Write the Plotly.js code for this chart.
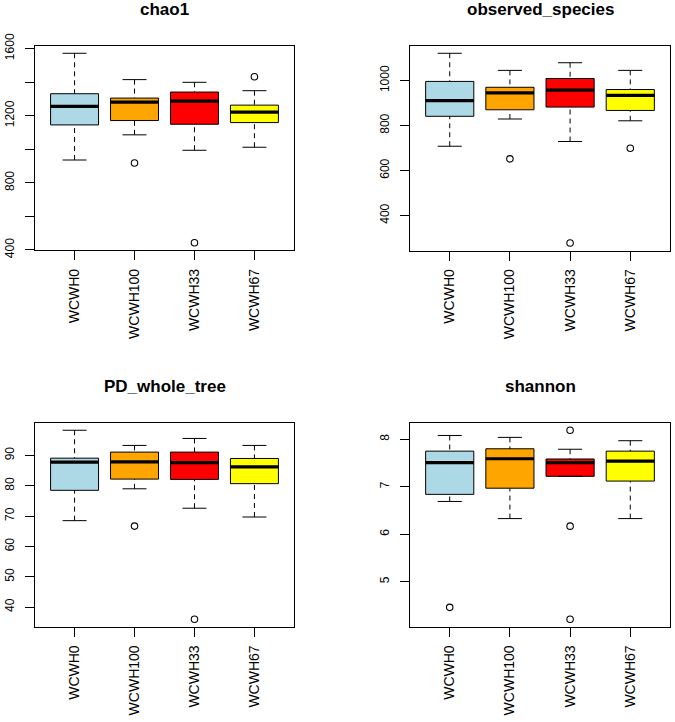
<!DOCTYPE html>
<html><head><meta charset="utf-8">
<script src="https://cdn.plot.ly/plotly-3.0.1.min.js"></script>
<style>html,body{margin:0;padding:0;background:#fff}#chart{width:675px;height:722px}</style>
</head><body><div id="chart"></div>
<script>
// ---------- data ----------
const groups = ['WCWH0', 'WCWH100', 'WCWH33', 'WCWH67'];

const chao1Lower  = [936, 1086, 994, 1012];
const chao1Q1     = [1145, 1171, 1149, 1159];
const chao1Median = [1255, 1281, 1287, 1221];
const chao1Q3     = [1331, 1305, 1341, 1263];
const chao1Upper  = [1572, 1415, 1399, 1349];
const chao1OutGroup = ['WCWH100', 'WCWH33', 'WCWH67'];
const chao1OutValue = [918, 443, 1432];
const chao1TickVals = [400, 600, 800, 1000, 1200, 1400, 1600];
const chao1TickText = ['400', '', '800', '', '1200', '', '1600'];

const obsLower  = [708, 829, 729, 821];
const obsQ1     = [841, 870, 882, 867];
const obsMedian = [911, 945, 957, 934];
const obsQ3     = [996, 970, 1009, 960];
const obsUpper  = [1121, 1045, 1079, 1045];
const obsOutGroup = ['WCWH100', 'WCWH33', 'WCWH67'];
const obsOutValue = [652, 278, 699];
const obsTickVals = [400, 600, 800, 1000];
const obsTickText = ['400', '600', '800', '1000'];

const pdLower  = [68.5, 79.0, 72.6, 69.7];
const pdQ1     = [78.5, 82.2, 82.1, 80.7];
const pdMedian = [87.8, 87.9, 87.6, 86.2];
const pdQ3     = [89.1, 91.1, 91.1, 89.0];
const pdUpper  = [98.3, 93.3, 95.6, 93.3];
const pdOutGroup = ['WCWH100', 'WCWH33'];
const pdOutValue = [66.7, 36.0];
const pdTickVals = [40, 50, 60, 70, 80, 90];
const pdTickText = ['40', '50', '60', '70', '80', '90'];

const shLower  = [6.69, 6.33, 7.22, 6.33];
const shQ1     = [6.84, 6.97, 7.22, 7.12];
const shMedian = [7.51, 7.59, 7.51, 7.54];
const shQ3     = [7.75, 7.80, 7.585, 7.75];
const shUpper  = [8.08, 8.04, 7.79, 7.97];
const shOutGroup = ['WCWH0', 'WCWH33', 'WCWH33', 'WCWH33'];
const shOutValue = [4.46, 8.19, 6.17, 4.21];
const shTickVals = [5, 6, 7, 8];
const shTickText = ['5', '6', '7', '8'];

// ---------- styles ----------
const boxColors = ['#ADD8E6', '#FFA500', '#FF0000', '#FFFF00'];
const W = 675, H = 722;
// plot frames in pixels [left, right, top, bottom]
const frames = [[35, 294, 45.7, 250.3], [410, 670, 45.7, 250.6], [35, 294, 422.7, 626.8], [410, 670, 422.7, 626.8]];
const titleY = [10, 10, 386, 386];

const panels = [
  {title: 'chao1', lo: chao1Lower, q1: chao1Q1, med: chao1Median, q3: chao1Q3, hi: chao1Upper, og: chao1OutGroup, ov: chao1OutValue, tv: chao1TickVals, tt: chao1TickText},
  {title: 'observed_species', lo: obsLower, q1: obsQ1, med: obsMedian, q3: obsQ3, hi: obsUpper, og: obsOutGroup, ov: obsOutValue, tv: obsTickVals, tt: obsTickText},
  {title: 'PD_whole_tree', lo: pdLower, q1: pdQ1, med: pdMedian, q3: pdQ3, hi: pdUpper, og: pdOutGroup, ov: pdOutValue, tv: pdTickVals, tt: pdTickText},
  {title: 'shannon', lo: shLower, q1: shQ1, med: shMedian, q3: shQ3, hi: shUpper, og: shOutGroup, ov: shOutValue, tv: shTickVals, tt: shTickText}
];

const FONT = 'Liberation Sans, Arial, Helvetica, sans-serif';
const traces = [];
const layout = {
  width: W, height: H, margin: {l: 0, r: 0, t: 0, b: 0},
  paper_bgcolor: '#fff', plot_bgcolor: '#fff', showlegend: false,
  boxmode: 'overlay', font: {family: FONT, color: '#000'},
  annotations: []
};

panels.forEach((p, i) => {
  const s = i === 0 ? '' : String(i + 1);
  const xa = 'x' + s, ya = 'y' + s;
  const n = groups.length;
  // boxes
  groups.forEach((g, j) => {
    traces.push({
      type: 'box', x: [j + 1], q1: [p.q1[j]], median: [p.med[j]], q3: [p.q3[j]],
      lowerfence: [p.q1[j]], upperfence: [p.q3[j]], width: 0.8, whiskerwidth: 0,
      fillcolor: boxColors[j], line: {color: '#000', width: 1}, boxpoints: false,
      xaxis: xa, yaxis: ya, hoverinfo: 'skip', name: g
    });
  });
  // dashed whiskers, caps, thick medians
  const wx = [], wy = [], cx = [], cy = [], mx = [], my = [];
  groups.forEach((g, j) => {
    const x = j + 1;
    wx.push(x, x, null, x, x, null);
    wy.push(p.hi[j], p.q3[j], null, p.lo[j], p.q1[j], null);
    cx.push(x - 0.2, x + 0.2, null, x - 0.2, x + 0.2, null);
    cy.push(p.hi[j], p.hi[j], null, p.lo[j], p.lo[j], null);
    mx.push(x - 0.4, x + 0.4, null);
    my.push(p.med[j], p.med[j], null);
  });
  traces.push({type: 'scatter', mode: 'lines', x: wx, y: wy, line: {color: '#000', width: 1, dash: '5px,4px'}, xaxis: xa, yaxis: ya, hoverinfo: 'skip', connectgaps: false});
  traces.push({type: 'scatter', mode: 'lines', x: cx, y: cy, line: {color: '#000', width: 1}, xaxis: xa, yaxis: ya, hoverinfo: 'skip', connectgaps: false});
  traces.push({type: 'scatter', mode: 'lines', x: mx, y: my, line: {color: '#000', width: 3.2}, xaxis: xa, yaxis: ya, hoverinfo: 'skip', connectgaps: false});
  // outliers
  traces.push({type: 'scatter', mode: 'markers', x: p.og.map(g => groups.indexOf(g) + 1), y: p.ov,
    marker: {symbol: 'circle-open', size: 6.5, color: '#000', line: {width: 1.1, color: '#000'}},
    xaxis: xa, yaxis: ya, hoverinfo: 'skip'});

  // ranges like R (4% extension)
  const all = [].concat(p.lo, p.hi, p.ov);
  const mn = Math.min(...all), mxv = Math.max(...all), r = mxv - mn;
  const f = frames[i];
  const axCommon = {
    showgrid: false, zeroline: false, showline: true, mirror: true,
    linecolor: '#000', linewidth: 1, ticks: 'outside', ticklen: 9, tickwidth: 1, tickcolor: '#000',
    fixedrange: true
  };
  layout['xaxis' + s] = Object.assign({}, axCommon, {
    domain: [f[0] / W, f[1] / W], anchor: ya,
    range: [0.5 - 0.04 * n, n + 0.5 + 0.04 * n],
    tickmode: 'array', tickvals: groups.map((g, j) => j + 1), ticktext: groups,
    tickangle: -90, tickfont: {size: 14, family: FONT, color: '#000'}, ticklabelstandoff: 3
  });
  layout['yaxis' + s] = Object.assign({}, axCommon, {
    domain: [1 - f[3] / H, 1 - f[2] / H], anchor: xa,
    range: [mn - 0.04 * r, mxv + 0.04 * r],
    tickmode: 'array', tickvals: p.tv, ticktext: p.tt,
    tickangle: -90, tickfont: {size: 12, family: FONT, color: '#000'}, ticklabelstandoff: 6
  });
  layout.annotations.push({
    text: '<b>' + p.title + '</b>', xref: 'paper', yref: 'paper',
    x: ((f[0] + f[1]) / 2) / W, y: 1 - titleY[i] / H, xanchor: 'center', yanchor: 'middle',
    showarrow: false, font: {size: 17, family: FONT, color: '#000'}
  });
});

Plotly.newPlot('chart', traces, layout, {staticPlot: true, displayModeBar: false});
</script>
</body></html>
